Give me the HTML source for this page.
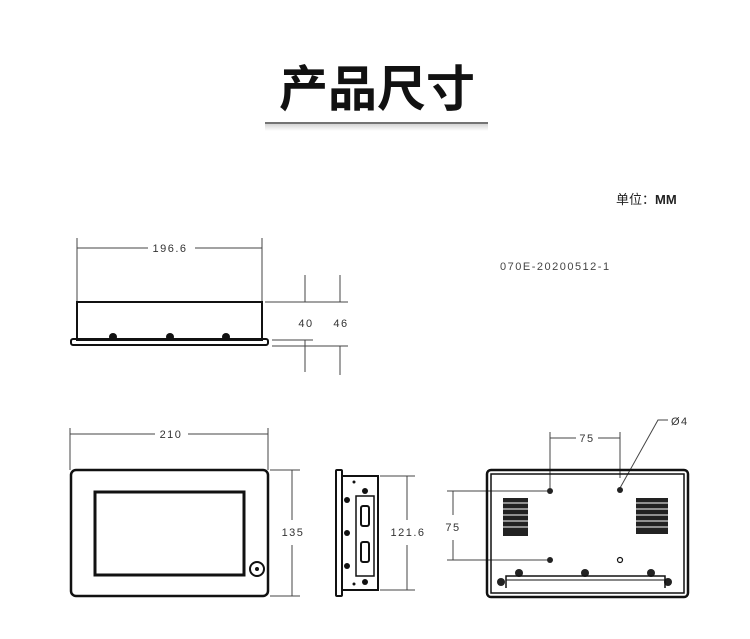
<!DOCTYPE html>
<html><head><meta charset="utf-8"><style>
html,body{margin:0;padding:0;background:#fff;width:750px;height:639px;overflow:hidden}
svg{display:block}
text{font-family:"Liberation Sans","Noto Sans CJK SC",sans-serif;fill:#333}
.d{font-size:11px;letter-spacing:1.5px}
</style></head><body>
<svg width="750" height="639" viewBox="0 0 750 639" xmlns="http://www.w3.org/2000/svg">
<defs><linearGradient id="sh" x1="0" y1="0" x2="0" y2="1"><stop offset="0" stop-color="#d4d4d4"/><stop offset="1" stop-color="#fff"/></linearGradient></defs>
<text x="377" y="106" text-anchor="middle" style="font-size:49px;font-weight:bold;fill:#111;font-family:'Noto Sans CJK SC',sans-serif">产品尺寸</text>
<rect x="265" y="124" width="223" height="7" fill="url(#sh)"/>
<line x1="265" y1="123" x2="488" y2="123" stroke="#222" stroke-width="1.2"/>
<text x="616" y="204" style="font-size:13px;fill:#222">单位：<tspan font-weight="bold">MM</tspan></text>
<text x="500" y="270" class="d" style="fill:#444">070E-20200512-1</text>

<g stroke="#444" stroke-width="1" fill="none">
<line x1="77" y1="238" x2="77" y2="302"/><line x1="262" y1="238" x2="262" y2="302"/>
<line x1="77" y1="248" x2="148" y2="248"/><line x1="195" y1="248" x2="262" y2="248"/>
<line x1="265" y1="302" x2="348" y2="302"/>
<line x1="272" y1="340" x2="313" y2="340"/><line x1="272" y1="346" x2="348" y2="346"/>
<line x1="305" y1="275" x2="305" y2="302"/><line x1="340" y1="275" x2="340" y2="302"/>
<line x1="305" y1="340" x2="305" y2="372"/><line x1="340" y1="346" x2="340" y2="375"/>
<line x1="70" y1="428" x2="70" y2="470"/><line x1="268" y1="428" x2="268" y2="470"/>
<line x1="70" y1="434" x2="155" y2="434"/><line x1="188" y1="434" x2="268" y2="434"/>
<line x1="270" y1="470" x2="300" y2="470"/><line x1="270" y1="596" x2="300" y2="596"/>
<line x1="292" y1="470" x2="292" y2="520"/><line x1="292" y1="545" x2="292" y2="596"/>
<line x1="380" y1="476" x2="415" y2="476"/><line x1="380" y1="590" x2="415" y2="590"/>
<line x1="407" y1="476" x2="407" y2="520"/><line x1="407" y1="545" x2="407" y2="590"/>
<line x1="550" y1="432" x2="550" y2="488"/><line x1="620" y1="432" x2="620" y2="478"/>
<line x1="550" y1="438" x2="576" y2="438"/><line x1="598" y1="438" x2="620" y2="438"/>
<line x1="447" y1="491" x2="547" y2="491"/><line x1="447" y1="560" x2="547" y2="560"/>
<line x1="453" y1="491" x2="453" y2="515"/><line x1="453" y1="540" x2="453" y2="560"/>
<polyline points="620,488 658,420 668,420"/>
</g>
<g class="d">
<text x="170" y="252" text-anchor="middle">196.6</text>
<text x="306" y="327" text-anchor="middle">40</text>
<text x="341" y="327" text-anchor="middle">46</text>
<text x="171" y="438" text-anchor="middle">210</text>
<text x="293" y="536" text-anchor="middle">135</text>
<text x="408" y="536" text-anchor="middle">121.6</text>
<text x="587" y="442" text-anchor="middle">75</text>
<text x="453" y="531" text-anchor="middle">75</text>
<text x="671" y="425">Ø4</text>
</g>

<rect x="77" y="302" width="185" height="38" fill="none" stroke="#111" stroke-width="2"/>
<rect x="71" y="339" width="197" height="6" rx="2" fill="none" stroke="#111" stroke-width="2"/>
<circle cx="113" cy="337" r="4" fill="#111"/><circle cx="170" cy="337" r="4" fill="#111"/><circle cx="226" cy="337" r="4" fill="#111"/>

<rect x="71" y="470" width="197" height="126" rx="5" fill="none" stroke="#111" stroke-width="2.5"/>
<rect x="95" y="492" width="149" height="83" fill="none" stroke="#111" stroke-width="3"/>
<circle cx="257" cy="569" r="7" fill="none" stroke="#111" stroke-width="2"/><circle cx="257" cy="569" r="2" fill="#111"/>

<rect x="336" y="470" width="6" height="126" rx="1" fill="none" stroke="#111" stroke-width="2"/>
<rect x="342" y="476" width="36" height="114" fill="none" stroke="#111" stroke-width="2"/>
<rect x="356" y="496" width="18" height="80" fill="none" stroke="#111" stroke-width="1.5"/>
<rect x="361" y="506" width="8" height="20" rx="2" fill="none" stroke="#111" stroke-width="2"/>
<rect x="361" y="542" width="8" height="20" rx="2" fill="none" stroke="#111" stroke-width="2"/>
<g fill="#111"><circle cx="365" cy="491" r="3"/><circle cx="365" cy="582" r="3"/><circle cx="347" cy="500" r="3"/><circle cx="347" cy="533" r="3"/><circle cx="347" cy="566" r="3"/><circle cx="354" cy="482" r="1.5"/><circle cx="354" cy="584" r="1.5"/></g>

<rect x="487" y="470" width="201" height="127" rx="4" fill="none" stroke="#111" stroke-width="2.5"/>
<rect x="491" y="474" width="193" height="119" fill="none" stroke="#111" stroke-width="1.5"/>
<g fill="#222">
<rect x="503" y="498" width="25" height="38"/><rect x="636" y="498" width="32" height="36"/>
<circle cx="550" cy="491" r="3"/><circle cx="620" cy="490" r="3"/><circle cx="550" cy="560" r="3"/>
<circle cx="519" cy="573" r="4"/><circle cx="585" cy="573" r="4"/><circle cx="651" cy="573" r="4"/>
<circle cx="501" cy="582" r="4"/><circle cx="668" cy="582" r="4"/>
</g>
<g stroke="#fff" stroke-width="1"><line x1="503" y1="503" x2="528" y2="503"/><line x1="503" y1="509" x2="528" y2="509"/><line x1="503" y1="515" x2="528" y2="515"/><line x1="503" y1="521" x2="528" y2="521"/><line x1="503" y1="527" x2="528" y2="527"/><line x1="636" y1="503" x2="668" y2="503"/><line x1="636" y1="509" x2="668" y2="509"/><line x1="636" y1="515" x2="668" y2="515"/><line x1="636" y1="521" x2="668" y2="521"/><line x1="636" y1="527" x2="668" y2="527"/></g>
<circle cx="620" cy="560" r="2.5" fill="none" stroke="#111" stroke-width="1.2"/>
<polyline points="506,588 506,576 665,576 665,588" fill="none" stroke="#111" stroke-width="1.5"/>
<line x1="506" y1="580" x2="665" y2="580" stroke="#111" stroke-width="1"/>
</svg>
</body></html>
